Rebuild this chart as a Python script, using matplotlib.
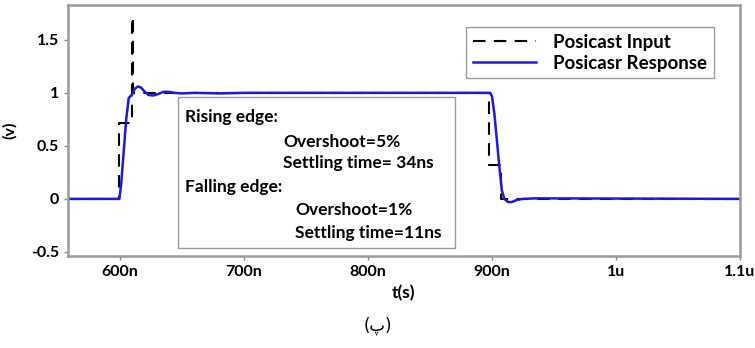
import matplotlib
matplotlib.use("Agg")
import matplotlib.pyplot as plt
from matplotlib.patches import Rectangle

# posicast input (ns, V)
t_in = [558, 599, 599, 609.6, 609.6, 610.2, 610.2, 898, 898, 907, 907, 1100]
v_in = [0, 0, 0.72, 0.72, 1.72, 1.72, 1.0, 1.0, 0.32, 0.32, 0, 0]

# response (ns, V)
t_out = [558, 599.5, 601, 603, 605, 607, 608.5, 610, 612, 614.5, 617, 620, 623, 627,
         631, 635, 639, 644, 650, 660, 680, 700, 750, 800, 850, 898.5,
         900, 902, 904, 906, 908, 910, 913, 916, 920, 925, 935, 1100]
v_out = [0, 0, 0.15, 0.45, 0.75, 0.95, 0.97, 0.99, 1.04, 1.06, 1.05, 1.01, 0.98, 0.975,
         0.99, 1.01, 1.01, 1.0, 0.995, 1.0, 0.995, 1.0, 1.0, 1.0, 1.0, 1.0,
         0.97, 0.8, 0.55, 0.3, 0.08, 0.0, -0.03, -0.03, -0.01, 0.0, 0.005, 0.0]

xticks = [600, 700, 800, 900, 1000, 1100]
xlabels = ["600n", "700n", "800n", "900n", "1u", "1.1u"]
yticks = [-0.5, 0, 0.5, 1, 1.5]
ylabels = ["-0.5", "0", "0.5", "1", "1.5"]

notes = [
    ("Rising edge:", 0.174, 0.554),
    ("Overshoot=5%", 0.320, 0.454),
    ("Settling time= 34ns", 0.320, 0.371),
    ("Falling edge:", 0.174, 0.275),
    ("Overshoot=1%", 0.338, 0.183),
    ("Settling time=11ns", 0.338, 0.092),
]

plt.rcParams["font.family"] = ["Lato", "DejaVu Sans"]
plt.rcParams["font.weight"] = "bold"

fig = plt.figure(figsize=(7.55, 3.48), dpi=100)
ax = fig.add_axes([0.090, 0.264, 0.890, 0.722])

ax.plot(t_in, v_in, color="black", lw=1.5, dashes=(6, 4), label="Posicast Input")
ax.plot(t_out, v_out, color="#1a1adf", lw=1.8, label="Posicasr Response")

ax.set_xlim(558, 1100)
ax.set_ylim(-0.54, 1.83)
ax.set_xticks(xticks)
ax.set_xticklabels(xlabels)
ax.set_yticks(yticks)
ax.set_yticklabels(ylabels)
ax.tick_params(labelsize=11.5, length=3, color="#888888", width=1)
for s in ax.spines.values():
    s.set_color("#9a9a9a")
    s.set_linewidth(1.8)

ax.set_xlabel("t(s)", fontsize=12.5, fontweight="bold", labelpad=4)
ax.set_ylabel("(v)", fontsize=11.5, fontweight="bold", labelpad=10)

leg = ax.legend(loc="upper right", bbox_to_anchor=(0.975, 0.948), fontsize=13.5,
                frameon=True, fancybox=False, framealpha=1, edgecolor="#999999",
                handlelength=3.4, handletextpad=0.9, borderpad=0.35, labelspacing=0.2)
leg.get_frame().set_linewidth(1.0)

ax.add_patch(Rectangle((0.164, 0.032), 0.412, 0.601, transform=ax.transAxes,
                       facecolor="white", edgecolor="#999999", lw=1.0, zorder=5))
for txt, x, y in notes:
    ax.text(x, y, txt, transform=ax.transAxes, fontsize=12.5, fontweight="bold",
            va="center", ha="left", zorder=6)

fig.text(0.5, 0.063, "(پ)", fontsize=12, family="DejaVu Sans", ha="center", va="center",
         fontweight="normal")

fig.savefig("out.png", dpi=100)
